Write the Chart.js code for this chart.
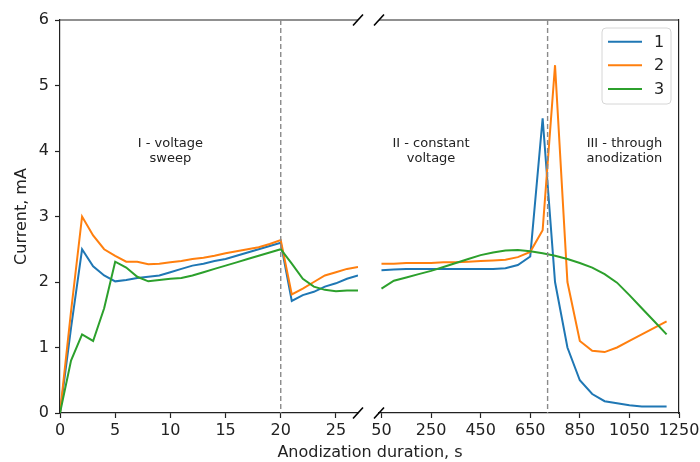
<!DOCTYPE html>
<html>
<head>
<meta charset="utf-8">
<script src="https://cdn.jsdelivr.net/npm/chart.js@4"></script>
<style>
  html, body { margin: 0; padding: 0; background: #fff; }
  #wrap { position: relative; width: 700px; height: 462px; }
  #wrap canvas { position: absolute; left: 0; top: 0; }
</style>
</head>
<body>
<div id="wrap">
  <canvas id="chartLeft" width="700" height="462"></canvas>
  <canvas id="chartRight" width="700" height="462"></canvas>
</div>
<script>
// --- data ---
const seriesNames = ['1', '2', '3'];
const seriesColors = ['#1f77b4', '#ff7f0e', '#2ca02c'];

// stage I / start of stage II, seconds
const leftTimes = [0, 1, 2, 3, 4, 5, 6, 7, 8, 9, 10, 11, 12, 13, 14, 15, 16, 17, 18, 19, 20, 21, 22, 23, 24, 25, 26, 27];
const left1 = [0, 1.3, 2.5, 2.24, 2.1, 2.01, 2.03, 2.06, 2.08, 2.1, 2.15, 2.2, 2.25, 2.28, 2.32, 2.35, 2.4, 2.45, 2.5, 2.55, 2.6, 1.71, 1.8, 1.85, 1.93, 1.98, 2.05, 2.1];
const left2 = [0, 1.55, 3.0, 2.71, 2.5, 2.4, 2.31, 2.31, 2.27, 2.28, 2.3, 2.32, 2.35, 2.37, 2.4, 2.44, 2.47, 2.5, 2.53, 2.58, 2.64, 1.81, 1.9, 2.0, 2.1, 2.15, 2.2, 2.23];
const left3 = [0, 0.8, 1.2, 1.1, 1.6, 2.31, 2.22, 2.08, 2.01, 2.03, 2.05, 2.06, 2.1, 2.15, 2.2, 2.25, 2.3, 2.35, 2.4, 2.45, 2.5, 2.28, 2.05, 1.93, 1.88, 1.86, 1.87, 1.87];

// stage II / III, seconds
const rightTimes = [50, 100, 150, 200, 250, 300, 350, 400, 450, 500, 550, 600, 650, 700, 750, 800, 850, 900, 950, 1000, 1050, 1100, 1150, 1200];
const right1 = [2.18, 2.19, 2.2, 2.2, 2.2, 2.2, 2.2, 2.2, 2.2, 2.2, 2.21, 2.26, 2.39, 4.5, 2.0, 1.0, 0.5, 0.29, 0.18, 0.15, 0.12, 0.1, 0.1, 0.1];
const right2 = [2.28, 2.28, 2.29, 2.29, 2.29, 2.3, 2.3, 2.31, 2.32, 2.33, 2.34, 2.38, 2.46, 2.79, 5.31, 2.0, 1.1, 0.95, 0.93, 1.0, 1.1, 1.2, 1.3, 1.4];
const right3 = [1.9, 2.02, 2.07, 2.12, 2.17, 2.23, 2.29, 2.35, 2.41, 2.45, 2.48, 2.49, 2.47, 2.44, 2.4, 2.35, 2.29, 2.22, 2.12, 1.99, 1.8, 1.6, 1.4, 1.2];

const leftTicks = [0, 5, 10, 15, 20, 25];
const rightTicks = [50, 250, 450, 650, 850, 1050, 1250];
const yTicks = [0, 1, 2, 3, 4, 5, 6];

const stageLabels = [['I - voltage', 'sweep'], ['II - constant', 'voltage'], ['III - through', 'anodization']];
const stageBounds = [20, 720];

const FONT = 'DejaVu Sans';
const INK = '#222';

function makeSets(times, lists) {
  return lists.map((vals, i) => ({
    label: seriesNames[i],
    data: times.map((t, j) => ({ x: t, y: vals[j] })),
    borderColor: seriesColors[i],
    backgroundColor: seriesColors[i],
    borderWidth: 2,
    pointRadius: 0,
    tension: 0,
    order: 3 - i
  }));
}

// spines, break marks, dashed stage boundary, stage texts
const decor = {
  id: 'decor',
  afterDatasetsDraw(chart, args, opts) {
    const { ctx, chartArea: a, scales } = chart;
    ctx.save();
    // top spine
    ctx.strokeStyle = INK;
    ctx.lineWidth = 1.2;
    ctx.beginPath();
    ctx.moveTo(a.left, a.top);
    ctx.lineTo(a.right, a.top);
    ctx.stroke();
    // break marks
    const bx = opts.breakSide === 'right' ? a.right : a.left;
    ctx.lineWidth = 1.6;
    ctx.strokeStyle = '#000';
    [a.top, a.bottom].forEach(by => {
      ctx.beginPath();
      ctx.moveTo(bx - 5, by + 5.5);
      ctx.lineTo(bx + 5, by - 5.5);
      ctx.stroke();
    });
    // dashed boundary
    const px = scales.x.getPixelForValue(opts.bound);
    ctx.strokeStyle = '#8a8a8a';
    ctx.lineWidth = 1.4;
    ctx.setLineDash([5, 3]);
    ctx.beginPath();
    ctx.moveTo(px, a.top);
    ctx.lineTo(px, a.bottom);
    ctx.stroke();
    ctx.setLineDash([]);
    // stage texts
    ctx.fillStyle = INK;
    ctx.font = '13px "' + FONT + '"';
    ctx.textAlign = 'center';
    ctx.textBaseline = 'middle';
    opts.texts.forEach(t => {
      const tx = scales.x.getPixelForValue(t.x);
      const ty = scales.y.getPixelForValue(t.y);
      t.lines.forEach((ln, k) => ctx.fillText(ln, tx, ty + (k - (t.lines.length - 1) / 2) * 15));
    });
    ctx.restore();
  }
};

// boxed legend in the upper right corner, plus the shared x title
const boxLegend = {
  id: 'boxLegend',
  afterDraw(chart) {
    const { ctx, chartArea: a } = chart;
    const x = a.right - 77, y = a.top + 8, w = 69, h = 76;
    ctx.save();
    ctx.fillStyle = 'rgba(255,255,255,0.8)';
    ctx.strokeStyle = '#d6d6d6';
    ctx.lineWidth = 1;
    ctx.beginPath();
    ctx.roundRect(x, y, w, h, 4);
    ctx.fill();
    ctx.stroke();
    ctx.font = '16px "' + FONT + '"';
    ctx.textBaseline = 'middle';
    ctx.textAlign = 'left';
    chart.data.datasets.forEach((ds, i) => {
      const ry = y + 13.7 + i * 23.6;
      ctx.strokeStyle = ds.borderColor;
      ctx.lineWidth = 2;
      ctx.beginPath();
      ctx.moveTo(x + 6, ry);
      ctx.lineTo(x + 40, ry);
      ctx.stroke();
      ctx.fillStyle = INK;
      ctx.fillText(ds.label, x + 52, ry + 1);
    });
    ctx.textAlign = 'center';
    ctx.fillText('Anodization duration, s', 370, 453);
    ctx.restore();
  }
};

function xScale(min, max, ticks) {
  return {
    type: 'linear',
    min: min,
    max: max,
    afterBuildTicks: s => { s.ticks = ticks.map(v => ({ value: v })); },
    afterFit: s => { s.height = 49; s.paddingLeft = 0; s.paddingRight = 0; },
    grid: { display: true, drawOnChartArea: false, drawTicks: true, tickLength: 5, tickColor: INK, tickWidth: 1.2 },
    border: { display: true, color: INK, width: 1.2 },
    ticks: { color: INK, padding: 3, maxRotation: 0, autoSkip: false, font: { family: FONT, size: 16 }, callback: v => String(v) }
  };
}

const yBase = {
  min: 0,
  max: 6,
  afterBuildTicks: s => { s.ticks = yTicks.map(v => ({ value: v })); }
};

new Chart(document.getElementById('chartLeft'), {
  type: 'line',
  data: { datasets: makeSets(leftTimes, [left1, left2, left3]) },
  plugins: [decor],
  options: {
    responsive: false,
    animation: false,
    layout: { padding: { left: 0, top: 20, right: 342, bottom: 0 } },
    scales: {
      x: xScale(0, 27, leftTicks),
      y: Object.assign({}, yBase, {
        position: 'left',
        afterFit: s => { s.width = 60; },
        grid: { display: true, drawOnChartArea: false, drawTicks: true, tickLength: 5, tickColor: INK, tickWidth: 1.2 },
        border: { display: true, color: INK, width: 1.2 },
        ticks: { color: INK, padding: 6, font: { family: FONT, size: 16 }, callback: v => String(v) },
        title: { display: true, text: 'Current, mA', color: INK, padding: { top: 12, bottom: 0 }, font: { family: FONT, size: 16 } }
      })
    },
    plugins: {
      legend: { display: false },
      tooltip: { enabled: false },
      decor: { breakSide: 'right', bound: stageBounds[0], texts: [{ x: 10, y: 4.0, lines: stageLabels[0] }] }
    }
  }
});

new Chart(document.getElementById('chartRight'), {
  type: 'line',
  data: { datasets: makeSets(rightTimes, [right1, right2, right3]) },
  plugins: [decor, boxLegend],
  options: {
    responsive: false,
    animation: false,
    layout: { padding: { left: 379, top: 20, right: 0, bottom: 0 } },
    scales: {
      x: xScale(40, 1250, rightTicks),
      y: Object.assign({}, yBase, {
        position: 'right',
        afterFit: s => { s.width = 21; },
        grid: { display: false },
        border: { display: true, color: INK, width: 1.2 },
        ticks: { display: false }
      })
    },
    plugins: {
      legend: { display: false },
      tooltip: { enabled: false },
      decor: {
        breakSide: 'left',
        bound: stageBounds[1],
        texts: [{ x: 250, y: 4.0, lines: stageLabels[1] }, { x: 1030, y: 4.0, lines: stageLabels[2] }]
      }
    }
  }
});
</script>
</body>
</html>
